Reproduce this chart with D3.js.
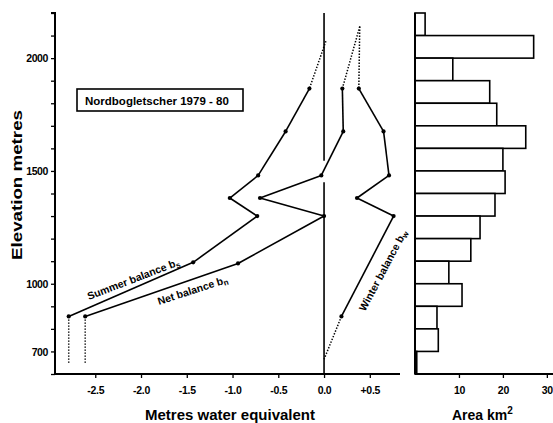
<!DOCTYPE html>
<html><head><meta charset="utf-8">
<script src="https://cdn.jsdelivr.net/npm/d3@7"></script>
<style>
body{margin:0;background:#fff}
text{font-family:"Liberation Sans",Arial,Helvetica,sans-serif;font-weight:bold;fill:#000}
</style>
</head><body>
<svg id="c" width="553" height="423"></svg>
<script>
// ---- data ----
const yTickLabels = [700, 1000, 1500, 2000];
const xTickValues = [-2.5, -2.0, -1.5, -1.0, -0.5, 0.0, 0.5];
const xTickLabels = ["-2.5", "-2.0", "-1.5", "-1.0", "-0.5", "0.0", "+0.5"];
const areaTickValues = [10, 20, 30];
const bandBottoms = [2100, 2000, 1900, 1800, 1700, 1600, 1500, 1400, 1300, 1200, 1100, 1000, 900, 800, 700, 600];
const bandAreas = [2.3, 27.0, 8.6, 17.0, 18.6, 25.2, 20.0, 20.5, 18.2, 14.8, 12.7, 7.7, 10.7, 5.0, 5.3, 0.4];
const summerElev = [2075, 1865, 1675, 1480, 1380, 1300, 1095, 855, 645];
const summerVal  = [0.02, -0.16, -0.42, -0.72, -1.03, -0.73, -1.43, -2.79, -2.79];
const netElev = [2140, 1865, 1675, 1480, 1380, 1300, 1090, 855, 645];
const netVal  = [0.39, 0.20, 0.21, -0.03, -0.70, 0.00, -0.94, -2.61, -2.61];
const winterElev = [2140, 1865, 1675, 1480, 1380, 1300, 855, 665];
const winterVal  = [0.39, 0.38, 0.65, 0.71, 0.36, 0.76, 0.19, 0.00];

// ---- scales ----
const svg = d3.select("#c");
const y = d3.scaleLinear().domain([600, 2200]).range([374, 13]);
const x = d3.scaleLinear().domain([-2.94, 0.83]).range([55, 400]);
const a = d3.scaleLinear().domain([0, 31.4]).range([415, 553]);

// ---- left y axis ----
const yAxis = d3.axisLeft(y).tickValues(d3.range(600, 2201, 100)).tickSize(4).tickPadding(3)
  .tickFormat(d => yTickLabels.includes(d) ? d : "");
const gy = svg.append("g").attr("transform", "translate(55,0)").call(yAxis);
gy.select(".domain").attr("stroke-width", 2).attr("d", `M-4,${y(2200)}H0V${y(600)}`);
gy.selectAll(".tick line").attr("stroke-width", 1.3);
gy.selectAll(".tick text").style("font-size", "10.5px").style("letter-spacing", "-0.4px").attr("dy", "0.35em");

// ---- bottom x axis (balance) ----
const xAxis = d3.axisBottom(x).tickValues(xTickValues).tickSize(4).tickPadding(9)
  .tickFormat((d, i) => xTickLabels[i]);
const gx = svg.append("g").attr("transform", "translate(0,374)").call(xAxis);
gx.select(".domain").attr("stroke-width", 2).attr("d", `M55,0H400`);
gx.selectAll(".tick line").attr("stroke-width", 1.3);
gx.selectAll(".tick text").style("font-size", "10.5px").style("letter-spacing", "-0.3px");

// ---- area axis ----
const aAxis = d3.axisBottom(a).tickValues(areaTickValues).tickSize(4).tickPadding(9);
const ga = svg.append("g").attr("transform", "translate(0,374)").call(aAxis);
ga.select(".domain").attr("stroke-width", 2).attr("d", `M415,0H553`);
ga.selectAll(".tick line").attr("stroke-width", 1.3);
ga.selectAll(".tick text").style("font-size", "10.5px").style("letter-spacing", "-0.3px");

// ---- area bars ----
svg.append("g").selectAll("rect").data(bandBottoms).join("rect")
  .attr("x", a(0))
  .attr("y", d => y(d + 100))
  .attr("width", (d, i) => a(bandAreas[i]) - a(0))
  .attr("height", d => y(d) - y(d + 100))
  .attr("fill", "#fff").attr("stroke", "#000").attr("stroke-width", 1.6);
svg.append("line").attr("x1", a(0)).attr("x2", a(0)).attr("y1", y(2200)).attr("y2", y(600))
  .attr("stroke", "#000").attr("stroke-width", 2);

// ---- zero line ----
svg.append("line").attr("x1", x(0)).attr("x2", x(0)).attr("y1", y(2200)).attr("y2", y(1545))
  .attr("stroke", "#000").attr("stroke-width", 1.6);
svg.append("line").attr("x1", x(0)).attr("x2", x(0)).attr("y1", y(1450)).attr("y2", y(600))
  .attr("stroke", "#000").attr("stroke-width", 1.6);

// ---- balance profiles ----
function drawSeries(elev, vals, solidFrom, solidTo) {
  const pts = elev.map((e, i) => [x(vals[i]), y(e)]);
  const g = svg.append("g");
  for (let i = 0; i < pts.length - 1; i++) {
    const solid = i >= solidFrom && i < solidTo;
    g.append("path").attr("d", d3.line()([pts[i], pts[i + 1]]))
      .attr("fill", "none").attr("stroke", "#000")
      .attr("stroke-width", solid ? 1.6 : 1.5)
      .attr("stroke-dasharray", solid ? null : "1.4,1.6");
  }
  g.selectAll("circle").data(pts.slice(solidFrom, solidTo + 1)).join("circle")
    .attr("cx", d => d[0]).attr("cy", d => d[1]).attr("r", 2.1).attr("fill", "#000");
}
drawSeries(summerElev, summerVal, 1, 7);
drawSeries(netElev, netVal, 1, 7);
drawSeries(winterElev, winterVal, 1, 6);

// ---- series labels ----
function rotLabel(px, py, ang, main, sub) {
  const t = svg.append("text").attr("transform", `translate(${px},${py}) rotate(${ang})`)
    .style("font-size", "10.5px");
  t.append("tspan").text(main);
  t.append("tspan").attr("dy", 2).style("font-size", "8px").text(sub);
}
rotLabel(89, 300, -21, "Summer balance b", "s");
rotLabel(159, 305, -18, "Net balance b", "n");
rotLabel(365, 312, -62, "Winter balance b", "w");

// ---- title box ----
svg.append("rect").attr("x", 77).attr("y", 89).attr("width", 166).attr("height", 22)
  .attr("fill", "none").attr("stroke", "#000").attr("stroke-width", 1.6);
svg.append("text").attr("x", 85).attr("y", 104.5).style("font-size", "11.5px")
  .text("Nordbogletscher  1979 - 80");

// ---- axis titles ----
svg.append("text").attr("transform", "translate(22,185) rotate(-90)").attr("text-anchor", "middle")
  .style("font-size", "15px").attr("textLength", 150).attr("lengthAdjust", "spacingAndGlyphs")
  .text("Elevation metres");
svg.append("text").attr("x", 230).attr("y", 420).attr("text-anchor", "middle")
  .style("font-size", "15px").text("Metres water equivalent");
const at = svg.append("text").attr("x", 452).attr("y", 420).style("font-size", "14px");
at.append("tspan").text("Area km");
at.append("tspan").attr("dy", -6).style("font-size", "10px").text("2");
</script>
</body></html>
